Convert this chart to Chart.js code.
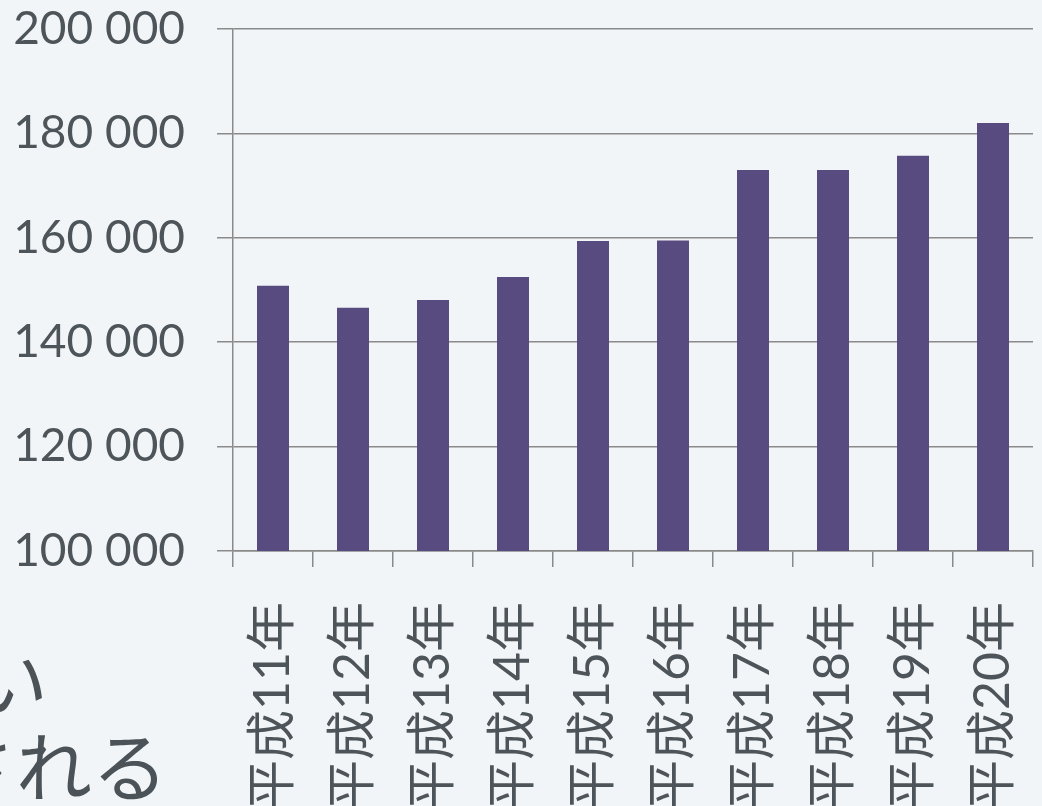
<!DOCTYPE html>
<html lang="ja">
<head>
<meta charset="utf-8">
<title>平成11年〜20年</title>
<script src="https://cdn.jsdelivr.net/npm/chart.js@4.4.1/dist/chart.umd.min.js"></script>
<style>
    html, body {
        margin: 0;
        padding: 0;
        width: 1042px;
        height: 806px;
        overflow: hidden;
        background: #f2f5f7;
    }
    #chart-wrap {
        position: absolute;
        left: 0;
        top: 0;
        width: 1042px;
        height: 806px;
    }
    .side-text {
        position: absolute;
        font-family: 'Noto Sans CJK JP', sans-serif;
        font-size: 76px;
        line-height: 1;
        color: #4b5358;
        white-space: nowrap;
    }
</style>
</head>
<body>
<div class="side-text" style="left:-28px; top:640px;">い</div>
<div class="side-text" style="left:-60px; top:725px;">される</div>
<div id="chart-wrap"><canvas id="bar-chart"></canvas></div>
<script>
// 年ごとの値
const years = ['平成11年', '平成12年', '平成13年', '平成14年', '平成15年',
               '平成16年', '平成17年', '平成18年', '平成19年', '平成20年'];
const counts = [150800, 146600, 148100, 152500, 159400,
                159500, 173000, 173000, 175700, 182000];
const yMin = 100000;
const yMax = 200000;
const yStep = 20000;

const textColor = '#4d555a';
const lineColor = '#8a8a8a';
const barColor = '#584b7f';

// 200000 -> "200 000"
function spaced(v) {
    return String(v).replace(/\B(?=(\d{3})+(?!\d))/g, ' ');
}

const ctx = document.getElementById('bar-chart').getContext('2d');
const chart = new Chart(ctx, {
    type: 'bar',
    data: {
        labels: years,
        datasets: [{
            data: counts,
            backgroundColor: barColor,
            borderWidth: 0,
            barPercentage: 0.4,
            categoryPercentage: 1.0,
        }]
    },
    options: {
        responsive: true,
        maintainAspectRatio: false,
        animation: false,
        layout: {
            padding: { top: 29, right: 9, left: 0, bottom: 0 }
        },
        plugins: {
            legend: { display: false },
            tooltip: { enabled: false }
        },
        scales: {
            x: {
                offset: true,
                grid: {
                    display: true,
                    offset: true,
                    drawOnChartArea: false,
                    drawTicks: true,
                    tickLength: 16,
                    color: lineColor,
                    lineWidth: 1.5,
                },
                border: { display: true, color: lineColor, width: 1.5 },
                ticks: {
                    autoSkip: false,
                    maxRotation: 90,
                    minRotation: 90,
                    padding: 35,
                    color: textColor,
                    font: { family: "Lato, 'Noto Sans CJK JP', sans-serif", size: 50 },
                },
                afterFit: (scale) => {
                    scale.height = 806 - 551;
                    scale.paddingLeft = 0;
                    scale.paddingRight = 0;
                }
            },
            y: {
                min: yMin,
                max: yMax,
                grid: {
                    color: lineColor,
                    lineWidth: 1.5,
                    tickLength: 16,
                },
                border: { display: true, color: lineColor, width: 1.5 },
                ticks: {
                    stepSize: yStep,
                    padding: 32,
                    color: textColor,
                    font: { family: 'Lato, sans-serif', size: 46 },
                    callback: (value) => spaced(value),
                },
                afterFit: (scale) => {
                    scale.width = 233;
                    scale.paddingTop = 0;
                    scale.paddingBottom = 0;
                }
            }
        }
    }
});
</script>
</body>
</html>
